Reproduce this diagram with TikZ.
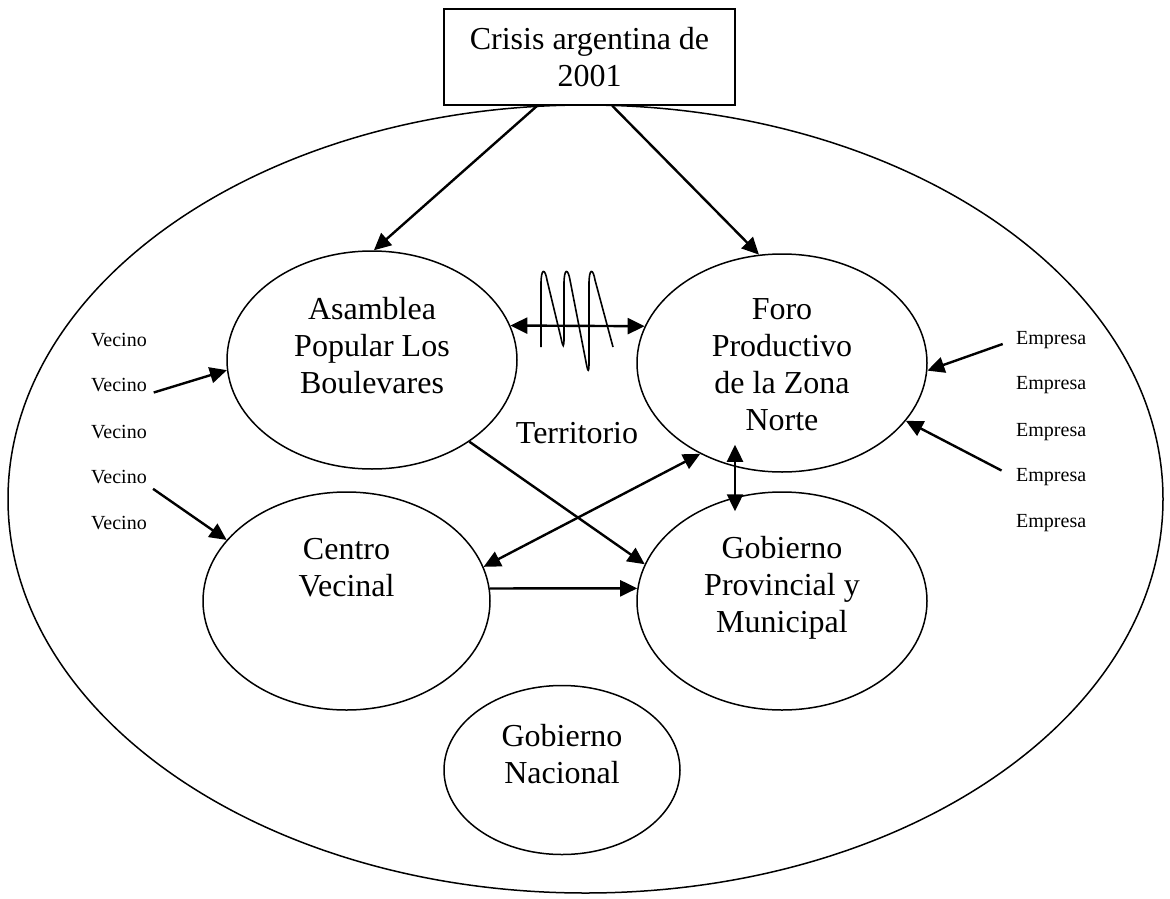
\documentclass[tikz,border=0pt]{standalone}
\usepackage{fontspec}
\setmainfont{Liberation Serif}
\usetikzlibrary{positioning, shapes.geometric, arrows.meta}

\begin{document}
\begin{tikzpicture}
    [x=1pt, y=-1pt,
     every node/.style={align=center, font=\fontsize{32}{37}\selectfont},
     blob/.style={draw, ellipse, line width=1.5pt, inner sep=0pt,
                  minimum width=290pt, minimum height=218pt},
     inside/.style={inner sep=0pt},
     small/.style={anchor=west, inner sep=2pt, font=\fontsize{20}{23}\selectfont},
     arr/.style={draw, line width=2.4pt, -{Triangle[length=17pt, width=16pt]}},
     darr/.style={arr, {Triangle[length=17pt, width=16pt]}-{Triangle[length=17pt, width=16pt]}},
    ]
    \useasboundingbox (0,0) rectangle (1170,899);

    \node (ambito) [draw, ellipse, line width=1.5pt, inner sep=0pt,
        minimum width=1155pt, minimum height=788pt] at (585.5,499) {};
    \node (crisis) [draw, fill=white, line width=1.5pt,
        minimum width=291pt, minimum height=96pt] at (589.5,57) {Crisis argentina de\\2001};

    \node (asamblea) [blob] at (372,360) {};
    \node (foro) [blob] at (782,363) {};
    \node (centro) [blob, minimum width=287pt] at (346.5,601) {};
    \node (gobprov) [blob] at (782,601) {};
    \node (gobnac) [blob, minimum width=236pt, minimum height=169pt] at (562,770) {};

    \node (asamblea-txt) [inside, below=47pt of asamblea.north] {Asamblea\\Popular Los\\Boulevares};
    \node (foro-txt) [inside, below=45pt of foro.north] {Foro\\Productivo\\de la Zona\\Norte};
    \node (centro-txt) [inside, below=47pt of centro.north] {Centro\\Vecinal};
    \node (gobprov-txt) [inside, below=45pt of gobprov.north] {Gobierno\\Provincial y\\Municipal};
    \node (gobnac-txt) [inside, below=39pt of gobnac.north] {Gobierno\\Nacional};
    \node (territorio) at (577,433) {Territorio};

    \foreach \i/\y in {1/340, 2/385, 3/432, 4/477, 5/523} {
        \node (vecino\i) [small] at (89,\y) {Vecino};
        \node (empresa\i) [small] at (1014,\y) {Empresa};
    }

    \draw [line width=1.6pt] (541,347) -- (541,284) .. controls (541,268) and (545,268) .. (547,280)
        -- (561,338) .. controls (563,348) and (564,348) .. (564,338)
        -- (564,284) .. controls (564,268) and (568,268) .. (570,280)
        -- (586,362) .. controls (588,373) and (589,373) .. (589,362)
        -- (589,284) .. controls (589,268) and (593,268) .. (595,280) -- (613,347);

    \draw [arr] (crisis.-137) -- (asamblea.89);
    \draw [arr] (crisis.-65) -- (foro.102);
    \draw [darr] (asamblea.14) -- (foro.165);

    \draw [arr, shorten <=5pt] (vecino2.south east) -- (asamblea.184);
    \draw [arr, shorten <=5pt] (vecino4.south east) -- (centro.153);
    \draw [arr, shorten <=12pt] (empresa1.west) -- (foro.-3);
    \draw [arr, shorten <=14pt] (empresa4.west) -- (foro.-25);

    \draw [arr] (asamblea.-40) -- (gobprov.165);
    \draw [darr] (foro.-132) -- (centro.14);
    \draw [darr] ([xshift=-47pt, yshift=28pt]foro.south) -- ([xshift=-47pt, yshift=-20pt]gobprov.north);
    \draw [arr] (centro.5) -- (gobprov.175);

\end{tikzpicture}
\end{document}
